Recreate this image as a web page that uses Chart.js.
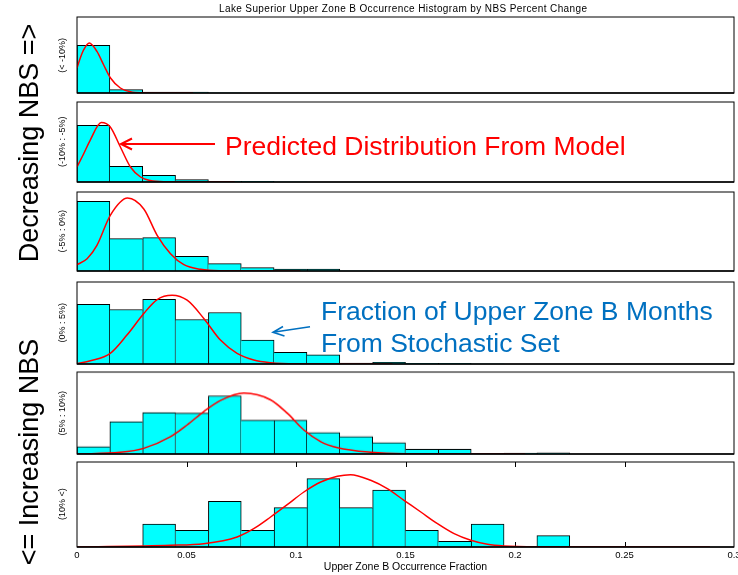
<!DOCTYPE html>
<html>
<head>
<meta charset="utf-8">
<script src="https://cdn.jsdelivr.net/npm/chart.js@4/dist/chart.umd.min.js"></script>
<style>
  html, body { margin: 0; padding: 0; background: #fff; }
  body { width: 738px; height: 575px; overflow: hidden; position: relative;
         font-family: "Liberation Sans", Arial, sans-serif; }
  canvas.panel { position: absolute; }
  svg.overlay { position: absolute; left: 0; top: 0; pointer-events: none; }
</style>
</head>
<body>
<svg class="overlay" width="738" height="575" xmlns="http://www.w3.org/2000/svg"
     font-family="Liberation Sans, Arial, sans-serif">
  <text x="403" y="11.5" text-anchor="middle" font-size="10" textLength="368" lengthAdjust="spacing" fill="#000">Lake Superior Upper Zone B Occurrence Histogram by NBS Percent Change</text>
  <text transform="translate(38,143) rotate(-90)" text-anchor="middle" font-size="27" fill="#000">Decreasing NBS =&gt;</text>
  <text transform="translate(38,452) rotate(-90)" text-anchor="middle" font-size="27" fill="#000">&lt;= Increasing NBS</text>
  <g id="rangeLabels" font-size="9" fill="#000"></g>
  <text x="225" y="155" font-size="26.5" fill="#FF0000">Predicted Distribution From Model</text>
  <path d="M215,144 L121,144 M132,138.5 L121,144 L132,149.5" stroke="#FF0000" stroke-width="2" fill="none"/>
  <text x="321" y="320" font-size="26.5" fill="#0070C0">Fraction of Upper Zone B Months</text>
  <text x="321" y="352" font-size="26.5" fill="#0070C0">From Stochastic Set</text>
  <path d="M310,326.7 L273,332.3 M283,326.5 L273,332.3 L284.5,336" stroke="#0070C0" stroke-width="1.6" fill="none"/>
</svg>
<script>
// Histogram bin centres (bin width 0.015) and x-axis ticks
const binCenters = [0.0075, 0.0225, 0.0375, 0.0525, 0.0675, 0.0825, 0.0975, 0.1125,
                    0.1275, 0.1425, 0.1575, 0.1725, 0.1875, 0.2025, 0.2175];
const xTicks = [0, 0.05, 0.1, 0.15, 0.2, 0.25, 0.3];

// NBS percent-change classes, top panel to bottom panel
const nbsRanges = ['(< -10%)', '(-10% : -5%)', '(-5% : 0%)', '(0% : 5%)', '(5% : 10%)', '(10% <)'];

// Stochastic-set histograms (relative frequency per bin)
const histBelowM10 = [47.6, 3.3, 1.0, 1.0, 0, 0, 0, 0, 0, 0, 0, 0, 0, 0, 0];
const histM10toM5  = [56.7, 15.7, 6.7, 2.3, 0.6, 0.6, 0, 0, 0, 0, 0, 0, 0, 0, 0];
const histM5to0    = [69.7, 32.3, 33.3, 14.7, 7.3, 3.3, 2.0, 2.0, 0, 0, 0, 0, 0, 0, 0];
const hist0to5     = [60.0, 54.7, 65.0, 44.7, 51.7, 24.0, 11.7, 9.3, 0.8, 1.7, 0.6, 0.6, 0, 0, 0];
const hist5to10    = [7.3, 32.3, 41.3, 40.7, 58.0, 33.7, 33.7, 21.3, 17.3, 11.3, 4.7, 4.7, 0.7, 1.0, 1.3];
const histAbove10  = [0, 0, 23.0, 16.7, 45.7, 16.7, 39.3, 68.3, 39.3, 57.0, 16.7, 5.7, 23.0, 0, 11.3];

// Model-predicted distributions, [fraction, relative frequency]
const fitBelowM10 = [[0, 25], [0.0015, 35], [0.003, 43], [0.0056, 50], [0.0091, 41.6], [0.0122, 28],
                     [0.0153, 15], [0.0198, 5], [0.0244, 1.3], [0.03, 0.3], [0.053, 0]];
const fitM10toM5  = [[0, 15], [0.003, 28], [0.006, 41.7], [0.0111, 59.4], [0.0152, 55], [0.0198, 35],
                     [0.0244, 15], [0.029, 5], [0.0335, 1.4], [0.04, 0.3], [0.072, 0]];
const fitM5to0    = [[0, 6.3], [0.0046, 12.3], [0.0091, 25.7], [0.0152, 55.7], [0.0231, 73], [0.0305, 62],
                     [0.0366, 35.7], [0.0427, 17.3], [0.0488, 6.3], [0.0564, 1.7], [0.065, 0.3], [0.102, 0]];
const fit0to5     = [[0, 0.3], [0.0061, 3.3], [0.0152, 10.7], [0.0228, 29], [0.0305, 50.7], [0.0366, 64.7],
                     [0.0434, 69], [0.0503, 64], [0.0579, 45.7], [0.0655, 24], [0.0731, 10.7], [0.0807, 4],
                     [0.0884, 1.3], [0.1, 0.2], [0.144, 0]];
const fit5to10    = [[0, 0], [0.0198, 1.7], [0.0305, 5.7], [0.0427, 17.3], [0.0503, 29], [0.0579, 42.3],
                     [0.0655, 53.3], [0.0762, 60.7], [0.0884, 54], [0.096, 40.7], [0.1036, 24], [0.1113, 12.3],
                     [0.1189, 6.3], [0.1341, 1.7], [0.15, 0.3], [0.2047, 0]];
const fitAbove10  = [[0, 0], [0.0427, 1.7], [0.0579, 3.3], [0.0731, 10], [0.0807, 18.3], [0.0884, 30],
                     [0.096, 42.3], [0.1036, 55], [0.1113, 65], [0.1189, 70.7], [0.1249, 72.3], [0.1341, 66.7],
                     [0.1417, 58.3], [0.1493, 46.7], [0.157, 35], [0.1646, 23.3], [0.1722, 13.3], [0.1798, 6.7],
                     [0.1874, 2.7], [0.195, 1], [0.21, 0.2], [0.289, 0]];

// Upper limit of each panel's frequency axis
const yTop = [76, 80, 79, 82.3, 81.7, 85];

const histograms = [histBelowM10, histM10toM5, histM5to0, hist0to5, hist5to10, histAbove10];
const fits = [fitBelowM10, fitM10toM5, fitM5to0, fit0to5, fit5to10, fitAbove10];

// Panel frames on the page (plot-area top and height)
const panelTop = [17.3, 101.7, 191.7, 281.7, 372.3, 461.7];
const areaLeft = 77, areaWidth = 657;
const padL = 17, padR = 26, padT = 4, padB = 4, axisH = 30;

Chart.defaults.font.family = '"Liberation Sans", Arial, sans-serif';
Chart.defaults.color = '#000';

// Black box around each plot area
const frame = {
  id: 'frame',
  afterDatasetsDraw(chart) {
    const { ctx, chartArea: a } = chart;
    ctx.save();
    ctx.strokeStyle = '#000';
    ctx.lineWidth = 1;
    ctx.strokeRect(a.left, a.top, a.right - a.left, a.bottom - a.top);
    ctx.lineWidth = 1.6;
    ctx.beginPath();
    ctx.moveTo(a.left, a.bottom);
    ctx.lineTo(a.right, a.bottom);
    ctx.stroke();
    ctx.restore();
  }
};

// Inward tick marks along top and bottom edges of the lowest panel
const innerTicks = {
  id: 'innerTicks',
  beforeDatasetsDraw(chart, args, opts) {
    if (!opts.show) return;
    const { ctx, chartArea: a, scales: { x } } = chart;
    ctx.save();
    ctx.strokeStyle = '#000';
    ctx.lineWidth = 1;
    x.ticks.forEach(t => {
      if (t.value <= x.min || t.value >= x.max) return;
      const px = Math.round(x.getPixelForValue(t.value)) + 0.5;
      ctx.beginPath();
      ctx.moveTo(px, a.top); ctx.lineTo(px, a.top + 5);
      ctx.moveTo(px, a.bottom); ctx.lineTo(px, a.bottom - 5);
      ctx.stroke();
    });
    ctx.restore();
  }
};

const svgNS = 'http://www.w3.org/2000/svg';
const labelGroup = document.getElementById('rangeLabels');

histograms.forEach((hist, i) => {
  const last = i === histograms.length - 1;
  const h = yTop[i];
  const canvas = document.createElement('canvas');
  canvas.className = 'panel';
  const cw = areaWidth + padL + padR;
  const ch = padT + h + (last ? axisH : padB);
  canvas.width = cw; canvas.height = ch;
  canvas.style.width = cw + 'px'; canvas.style.height = ch + 'px';
  canvas.style.left = (areaLeft - padL) + 'px';
  canvas.style.top = (panelTop[i] - padT) + 'px';
  document.body.insertBefore(canvas, document.querySelector('svg.overlay'));

  // Draw a bar's side edge only once where two bars touch
  const edges = c => {
    const k = c.dataIndex;
    const v = hist[k];
    const prev = k > 0 ? hist[k - 1] : 0;
    const next = k < hist.length - 1 ? hist[k + 1] : 0;
    return { top: 1, bottom: 0, left: prev <= v ? 1 : 0, right: next < v ? 1 : 0 };
  };

  new Chart(canvas, {
    type: 'bar',
    data: {
      datasets: [
        {
          type: 'line',
          data: fits[i].map(([x, y]) => ({ x, y })),
          borderColor: '#FF0000',
          borderWidth: 1.5,
          pointRadius: 0,
          cubicInterpolationMode: 'monotone',
          order: 1
        },
        {
          type: 'bar',
          data: binCenters.map((x, k) => ({ x, y: hist[k] })),
          backgroundColor: '#00FFFF',
          borderColor: '#000',
          borderWidth: edges,
          borderSkipped: false,
          barPercentage: 1,
          categoryPercentage: 1,
          order: 2
        }
      ]
    },
    options: {
      responsive: false,
      animation: false,
      events: [],
      layout: { padding: { left: padL, right: padR, top: padT, bottom: last ? 0 : padB } },
      scales: {
        x: {
          type: 'linear',
          min: 0, max: 0.3,
          offset: false,
          display: last,
          afterBuildTicks: s => { s.ticks = xTicks.map(v => ({ value: v })); },
          afterFit: s => { if (last) s.height = axisH; },
          grid: { display: false, drawTicks: false, offset: false },
          border: { display: false },
          ticks: { font: { size: 9.5 }, padding: 3, maxRotation: 0, autoSkip: false,
                   callback: v => String(v) },
          title: { display: true, text: 'Upper Zone B Occurrence Fraction',
                   font: { size: 10.5 }, padding: { top: 0, bottom: 4 } }
        },
        y: { min: 0, max: h, display: false }
      },
      plugins: {
        legend: { display: false },
        tooltip: { enabled: false },
        innerTicks: { show: last }
      }
    },
    plugins: [frame, innerTicks]
  });

  const t = document.createElementNS(svgNS, 'text');
  t.setAttribute('transform', `translate(65,${panelTop[i] + h / 2}) rotate(-90)`);
  t.setAttribute('text-anchor', 'middle');
  t.textContent = nbsRanges[i];
  labelGroup.appendChild(t);
});
</script>
</body>
</html>
